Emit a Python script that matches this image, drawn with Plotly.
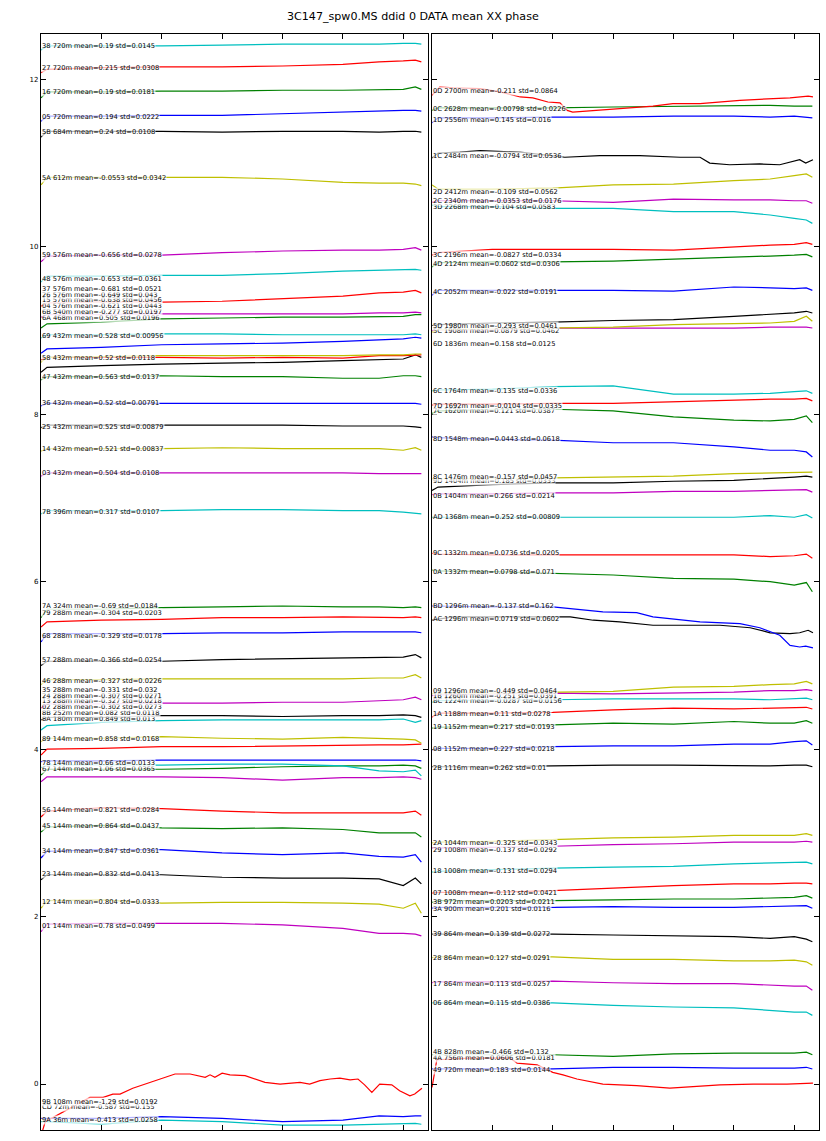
import plotly.graph_objects as go

TITLE = "3C147_spw0.MS ddid 0 DATA mean XX phase"
GRID_X = [0, 0.1, 1, 2, 3, 4, 5, 5.6, 6.0, 6.2, 6.3]
COLOR_MAP = {"b": "#0000ff", "g": "#008000", "r": "#ff0000", "c": "#00bfbf",
             "m": "#bf00bf", "y": "#bfbf00", "k": "#000000"}

# ---------------- left panel (top to bottom) ----------------
LEFT_LABELS = [
    "38 720m mean=0.19 std=0.0145", "27 720m mean=0.215 std=0.0308",
    "16 720m mean=0.19 std=0.0181", "05 720m mean=0.194 std=0.0222",
    "5B 684m mean=0.24 std=0.0108", "5A 612m mean=-0.0553 std=0.0342",
    "59 576m mean=-0.656 std=0.0278", "48 576m mean=-0.653 std=0.0361",
    "37 576m mean=-0.681 std=0.0521", "26 576m mean=-0.649 std=0.043",
    "15 576m mean=-0.638 std=0.0456", "04 576m mean=-0.621 std=0.0443",
    "6B 540m mean=-0.277 std=0.0197", "6A 468m mean=0.505 std=0.0196",
    "69 432m mean=0.528 std=0.00956", "58 432m mean=0.52 std=0.0118",
    "47 432m mean=0.563 std=0.0137", "36 432m mean=0.52 std=0.00791",
    "25 432m mean=0.525 std=0.00879", "14 432m mean=0.521 std=0.00837",
    "03 432m mean=0.504 std=0.0108", "7B 396m mean=0.317 std=0.0107",
    "7A 324m mean=-0.69 std=0.0184", "79 288m mean=-0.304 std=0.0203",
    "68 288m mean=-0.329 std=0.0178", "57 288m mean=-0.366 std=0.0254",
    "46 288m mean=-0.327 std=0.0226", "35 288m mean=-0.331 std=0.032",
    "24 288m mean=-0.307 std=0.0271", "13 288m mean=-0.327 std=0.0218",
    "02 288m mean=-0.302 std=0.0273", "8B 252m mean=0.082 std=0.0118",
    "8A 180m mean=0.849 std=0.013", "89 144m mean=0.858 std=0.0168",
    "78 144m mean=0.66 std=0.0133", "67 144m mean=1.06 std=0.0365",
    "56 144m mean=0.821 std=0.0284", "45 144m mean=0.864 std=0.0437",
    "34 144m mean=0.847 std=0.0361", "23 144m mean=0.832 std=0.0413",
    "12 144m mean=0.804 std=0.0333", "01 144m mean=0.78 std=0.0499",
    "9B 108m mean=-1.29 std=0.0192", "CD 72m mean=-0.587 std=0.155",
    "9A 36m mean=-0.413 std=0.0258",
]
LEFT_LABEL_Y = [12.40, 12.13, 11.85, 11.55, 11.37, 10.82, 9.90, 9.61, 9.50, 9.43,
                9.36, 9.29, 9.22, 9.15, 8.94, 8.67, 8.45, 8.13, 7.85, 7.58,
                7.30, 6.83, 5.71, 5.63, 5.35, 5.06, 4.81, 4.71, 4.63, 4.57,
                4.50, 4.43, 4.36, 4.12, 3.83, 3.76, 3.27, 3.08, 2.78, 2.51,
                2.18, 1.89, -0.22, -0.28, -0.43]
LEFT_COLORS = ["c", "r", "g", "b", "k", "y", "m", "c", "r", "m", "g", "c", "b", "y", "r",
               "k", "g", "b", "k", "y", "m", "c", "g", "r", "b", "k", "y", "m", "k", "c",
               "y", "r", "b", "c", "g", "m", "r", "g", "b", "k", "y", "m", "r", "b", "c"]
LEFT_Y = [
    [12.35, 12.40, 12.40, 12.40, 12.41, 12.42, 12.42, 12.42, 12.43, 12.43, 12.42],
    [12.08, 12.12, 12.14, 12.15, 12.15, 12.16, 12.18, 12.21, 12.22, 12.23, 12.21],
    [11.78, 11.85, 11.85, 11.86, 11.86, 11.87, 11.87, 11.88, 11.88, 11.91, 11.88],
    [11.50, 11.56, 11.56, 11.57, 11.57, 11.59, 11.61, 11.63, 11.63, 11.63, 11.62],
    [11.31, 11.38, 11.38, 11.38, 11.37, 11.38, 11.38, 11.37, 11.38, 11.38, 11.37],
    [10.74, 10.83, 10.83, 10.83, 10.83, 10.81, 10.77, 10.76, 10.76, 10.75, 10.73],
    [9.82, 9.89, 9.90, 9.90, 9.93, 9.95, 9.96, 9.96, 9.97, 9.99, 9.96],
    [9.58, 9.65, 9.65, 9.66, 9.66, 9.68, 9.71, 9.72, 9.72, 9.73, 9.72],
    [9.29, 9.33, 9.34, 9.34, 9.35, 9.38, 9.41, 9.45, 9.46, 9.48, 9.45],
    [9.16, 9.19, 9.19, 9.20, 9.20, 9.20, 9.20, 9.21, 9.21, 9.22, 9.21],
    [9.03, 9.08, 9.10, 9.14, 9.15, 9.16, 9.16, 9.17, 9.17, 9.19, 9.19],
    [8.91, 8.95, 8.95, 8.96, 8.96, 8.95, 8.95, 8.95, 8.95, 8.96, 8.95],
    [8.73, 8.78, 8.80, 8.83, 8.84, 8.85, 8.87, 8.89, 8.90, 8.92, 8.91],
    [8.62, 8.68, 8.69, 8.70, 8.70, 8.70, 8.70, 8.71, 8.71, 8.72, 8.72],
    [8.65, 8.68, 8.68, 8.68, 8.67, 8.68, 8.67, 8.70, 8.70, 8.71, 8.71],
    [8.50, 8.56, 8.58, 8.60, 8.61, 8.62, 8.64, 8.65, 8.66, 8.71, 8.68],
    [8.41, 8.45, 8.45, 8.46, 8.45, 8.45, 8.43, 8.43, 8.46, 8.46, 8.45],
    [8.10, 8.13, 8.13, 8.13, 8.13, 8.13, 8.13, 8.13, 8.13, 8.13, 8.12],
    [7.84, 7.87, 7.87, 7.87, 7.87, 7.87, 7.86, 7.86, 7.86, 7.85, 7.84],
    [7.56, 7.59, 7.59, 7.59, 7.60, 7.59, 7.59, 7.59, 7.57, 7.60, 7.57],
    [7.26, 7.30, 7.30, 7.30, 7.30, 7.30, 7.30, 7.29, 7.29, 7.29, 7.29],
    [6.81, 6.85, 6.85, 6.85, 6.86, 6.86, 6.85, 6.85, 6.83, 6.82, 6.81],
    [5.57, 5.67, 5.67, 5.69, 5.70, 5.71, 5.70, 5.70, 5.69, 5.70, 5.69],
    [5.46, 5.52, 5.54, 5.55, 5.57, 5.57, 5.58, 5.57, 5.57, 5.58, 5.57],
    [5.28, 5.38, 5.38, 5.38, 5.39, 5.39, 5.40, 5.40, 5.40, 5.40, 5.39],
    [5.00, 5.05, 5.05, 5.05, 5.07, 5.08, 5.09, 5.10, 5.10, 5.13, 5.09],
    [4.77, 4.83, 4.83, 4.84, 4.84, 4.84, 4.84, 4.85, 4.85, 4.89, 4.85],
    [4.49, 4.54, 4.54, 4.55, 4.55, 4.56, 4.56, 4.58, 4.59, 4.62, 4.59],
    [4.35, 4.38, 4.38, 4.40, 4.40, 4.39, 4.40, 4.40, 4.41, 4.40, 4.38],
    [4.23, 4.28, 4.32, 4.34, 4.35, 4.35, 4.35, 4.35, 4.36, 4.32, 4.34],
    [4.09, 4.13, 4.13, 4.15, 4.13, 4.12, 4.14, 4.13, 4.12, 4.11, 4.07],
    [3.93, 4.00, 4.01, 4.03, 4.03, 4.04, 4.05, 4.05, 4.05, 4.06, 4.06],
    [3.85, 3.86, 3.86, 3.87, 3.87, 3.87, 3.87, 3.87, 3.87, 3.87, 3.86],
    [3.78, 3.81, 3.81, 3.81, 3.82, 3.82, 3.80, 3.74, 3.73, 3.75, 3.68],
    [3.69, 3.76, 3.76, 3.76, 3.77, 3.79, 3.80, 3.80, 3.81, 3.80, 3.77],
    [3.61, 3.67, 3.67, 3.67, 3.66, 3.63, 3.66, 3.66, 3.67, 3.66, 3.64],
    [3.19, 3.26, 3.30, 3.29, 3.26, 3.24, 3.24, 3.24, 3.24, 3.26, 3.21],
    [3.01, 3.07, 3.09, 3.06, 3.05, 3.06, 3.04, 3.00, 3.00, 3.00, 2.95],
    [2.70, 2.78, 2.80, 2.80, 2.76, 2.74, 2.76, 2.72, 2.71, 2.74, 2.65],
    [2.44, 2.50, 2.50, 2.50, 2.47, 2.46, 2.46, 2.45, 2.37, 2.46, 2.39],
    [2.10, 2.19, 2.20, 2.16, 2.17, 2.17, 2.16, 2.15, 2.10, 2.16, 2.04],
    [1.82, 1.91, 1.92, 1.92, 1.92, 1.90, 1.86, 1.80, 1.80, 1.79, 1.77],
    [-0.62, -0.45, -0.16, 0.05, 0.13, 0.00, 0.07, -0.05, -0.08, -0.12, -0.05],
    [-0.41, -0.41, -0.41, -0.39, -0.41, -0.45, -0.43, -0.38, -0.39, -0.38, -0.38],
    [-0.45, -0.45, -0.48, -0.43, -0.45, -0.49, -0.49, -0.48, -0.47, -0.47, -0.48],
]
# series with their own (denser) sample positions
LEFT_X_OVERRIDE = {
    42: [0, 0.07, 0.81, 1.03, 1.19, 1.31, 1.52, 1.69, 1.81, 1.92, 2.05, 2.22, 2.47, 2.58,
         2.72, 2.80, 2.88, 3.00, 3.13, 3.38, 3.54, 3.71, 3.96, 4.12, 4.29, 4.45, 4.62,
         4.79, 4.95, 5.12, 5.25, 5.36, 5.48, 5.61, 5.81, 5.94, 6.11, 6.19, 6.31],
}
LEFT_Y_OVERRIDE = {
    42: [-0.62, -0.45, -0.16, -0.16, -0.12, -0.12, -0.05, -0.01, 0.02, 0.05, 0.08, 0.12,
         0.12, 0.10, 0.08, 0.11, 0.08, 0.13, 0.11, 0.10, 0.06, 0.02, 0.00, 0.01, 0.02,
         0.00, 0.04, 0.06, 0.07, 0.05, 0.06, -0.01, -0.10, 0.00, -0.01, -0.08, -0.14,
         -0.12, -0.05],
}

# ---------------- right panel (top to bottom) ----------------
RIGHT_LABELS = [
    "0D 2700m mean=-0.211 std=0.0864", "0C 2628m mean=-0.00798 std=0.0226",
    "1D 2556m mean=0.145 std=0.016", "1C 2484m mean=-0.0794 std=0.0536",
    "2D 2412m mean=-0.109 std=0.0562", "2C 2340m mean=-0.0353 std=0.0176",
    "3D 2268m mean=0.104 std=0.0583", "3C 2196m mean=-0.0827 std=0.0334",
    "4D 2124m mean=0.0602 std=0.0306", "4C 2052m mean=-0.022 std=0.0191",
    "5D 1980m mean=-0.293 std=0.0461", "5C 1908m mean=0.0879 std=0.0462",
    "6D 1836m mean=0.158 std=0.0125", "6C 1764m mean=-0.135 std=0.0336",
    "7D 1692m mean=-0.0104 std=0.0335", "7C 1620m mean=0.121 std=0.0387",
    "8D 1548m mean=0.0443 std=0.0618", "8C 1476m mean=-0.157 std=0.0457",
    "9D 1404m mean=0.185 std=0.0333", "0B 1404m mean=0.266 std=0.0214",
    "AD 1368m mean=0.252 std=0.00809", "9C 1332m mean=0.0736 std=0.0205",
    "0A 1332m mean=0.0798 std=0.071", "BD 1296m mean=-0.137 std=0.162",
    "AC 1296m mean=0.0719 std=0.0602", "09 1296m mean=-0.449 std=0.0464",
    "1B 1260m mean=-0.251 std=0.0391", "BC 1224m mean=-0.0287 std=0.0156",
    "1A 1188m mean=0.11 std=0.0278", "19 1152m mean=0.217 std=0.0193",
    "08 1152m mean=0.227 std=0.0218", "2B 1116m mean=0.262 std=0.01",
    "2A 1044m mean=-0.325 std=0.0343", "29 1008m mean=-0.137 std=0.0292",
    "18 1008m mean=-0.131 std=0.0294", "07 1008m mean=-0.112 std=0.0421",
    "3B 972m mean=0.0203 std=0.0211", "3A 900m mean=0.201 std=0.0116",
    "39 864m mean=0.139 std=0.0272", "28 864m mean=0.127 std=0.0291",
    "17 864m mean=0.113 std=0.0257", "06 864m mean=0.115 std=0.0386",
    "4B 828m mean=-0.466 std=0.132", "4A 756m mean=0.0606 std=0.0181",
    "49 720m mean=0.183 std=0.0144",
]
RIGHT_LABEL_Y = [11.86, 11.65, 11.52, 11.08, 10.66, 10.55, 10.48, 9.90, 9.79, 9.46,
                 9.06, 8.99, 8.84, 8.28, 8.10, 8.04, 7.71, 7.25, 7.20, 7.02,
                 6.77, 6.34, 6.12, 5.71, 5.55, 4.70, 4.64, 4.57, 4.42, 4.26,
                 4.00, 3.78, 2.88, 2.80, 2.54, 2.28, 2.17, 2.09, 1.79, 1.51,
                 1.20, 0.97, 0.38, 0.31, 0.17]
RIGHT_COLORS = ["r", "g", "b", "k", "y", "m", "c", "r", "g", "b", "y", "k", "m", "c", "r",
                "g", "b", "y", "k", "m", "c", "r", "g", "b", "k", "y", "m", "c", "r", "g",
                "b", "k", "y", "m", "c", "r", "g", "b", "k", "y", "m", "c", "g", "r", "b"]
RIGHT_Y = [
    None,
    [11.63, 11.66, 11.66, 11.66, 11.67, 11.68, 11.69, 11.69, 11.68, 11.68, 11.68],
    [11.48, 11.54, 11.54, 11.55, 11.55, 11.56, 11.56, 11.55, 11.56, 11.55, 11.54],
    None,
    [10.74, 10.69, 10.69, 10.70, 10.74, 10.75, 10.79, 10.81, 10.85, 10.87, 10.83],
    [10.53, 10.55, 10.55, 10.55, 10.53, 10.57, 10.56, 10.56, 10.55, 10.55, 10.52],
    [10.50, 10.48, 10.48, 10.46, 10.46, 10.42, 10.42, 10.38, 10.34, 10.32, 10.28],
    [9.90, 9.93, 9.97, 9.97, 9.97, 9.96, 10.00, 10.02, 10.03, 10.05, 10.03],
    [9.76, 9.81, 9.82, 9.82, 9.83, 9.85, 9.87, 9.89, 9.90, 9.91, 9.88],
    [9.42, 9.48, 9.48, 9.48, 9.48, 9.47, 9.52, 9.51, 9.50, 9.51, 9.48],
    [8.98, 9.01, 9.02, 9.03, 9.04, 9.07, 9.08, 9.09, 9.11, 9.17, 9.11],
    [9.06, 9.07, 9.09, 9.10, 9.12, 9.13, 9.17, 9.19, 9.21, 9.23, 9.21],
    [9.00, 9.01, 9.01, 9.03, 9.03, 9.03, 9.03, 9.04, 9.04, 9.04, 9.03],
    [8.28, 8.29, 8.30, 8.33, 8.34, 8.24, 8.24, 8.25, 8.27, 8.28, 8.25],
    [8.11, 8.12, 8.12, 8.13, 8.13, 8.15, 8.17, 8.18, 8.18, 8.19, 8.16],
    [8.01, 8.04, 8.06, 8.06, 8.04, 7.97, 7.93, 7.92, 7.94, 7.98, 7.90],
    [7.73, 7.72, 7.70, 7.69, 7.66, 7.66, 7.61, 7.57, 7.57, 7.55, 7.49],
    [7.23, 7.23, 7.23, 7.24, 7.25, 7.26, 7.29, 7.30, 7.31, 7.31, 7.31],
    [7.09, 7.13, 7.16, 7.18, 7.18, 7.20, 7.21, 7.23, 7.25, 7.26, 7.25],
    [7.04, 7.05, 7.05, 7.06, 7.06, 7.08, 7.08, 7.09, 7.10, 7.10, 7.07],
    [6.77, 6.77, 6.77, 6.77, 6.77, 6.77, 6.77, 6.79, 6.77, 6.80, 6.76],
    [6.34, 6.33, 6.32, 6.32, 6.32, 6.32, 6.32, 6.30, 6.31, 6.33, 6.28],
    [6.14, 6.13, 6.12, 6.10, 6.08, 6.04, 6.03, 6.00, 5.96, 5.99, 5.88],
    None,
    None,
    [4.66, 4.67, 4.67, 4.68, 4.69, 4.74, 4.75, 4.77, 4.78, 4.81, 4.78],
    [4.64, 4.65, 4.66, 4.67, 4.66, 4.67, 4.68, 4.70, 4.70, 4.71, 4.70],
    [4.56, 4.58, 4.59, 4.59, 4.60, 4.60, 4.60, 4.59, 4.60, 4.61, 4.59],
    [4.38, 4.43, 4.43, 4.44, 4.47, 4.49, 4.48, 4.49, 4.50, 4.50, 4.48],
    [4.25, 4.26, 4.28, 4.29, 4.31, 4.30, 4.33, 4.31, 4.31, 4.34, 4.31],
    [3.99, 4.01, 4.01, 4.03, 4.04, 4.04, 4.06, 4.06, 4.09, 4.10, 4.05],
    [3.79, 3.79, 3.79, 3.80, 3.81, 3.81, 3.80, 3.80, 3.81, 3.81, 3.79],
    [2.88, 2.89, 2.90, 2.92, 2.94, 2.95, 2.97, 2.97, 2.97, 2.99, 2.97],
    [2.82, 2.82, 2.83, 2.84, 2.86, 2.87, 2.89, 2.89, 2.89, 2.90, 2.89],
    [2.53, 2.54, 2.56, 2.58, 2.59, 2.60, 2.63, 2.64, 2.64, 2.65, 2.63],
    [2.28, 2.29, 2.29, 2.31, 2.34, 2.37, 2.39, 2.39, 2.40, 2.40, 2.39],
    [2.17, 2.19, 2.19, 2.19, 2.20, 2.21, 2.21, 2.22, 2.23, 2.25, 2.22],
    [2.10, 2.11, 2.11, 2.11, 2.12, 2.11, 2.11, 2.12, 2.13, 2.13, 2.10],
    [1.79, 1.79, 1.79, 1.79, 1.78, 1.77, 1.76, 1.74, 1.76, 1.73, 1.70],
    [1.51, 1.52, 1.52, 1.52, 1.49, 1.49, 1.47, 1.47, 1.48, 1.46, 1.42],
    [1.21, 1.22, 1.22, 1.23, 1.21, 1.20, 1.20, 1.18, 1.17, 1.17, 1.12],
    [0.97, 0.97, 0.97, 0.97, 0.94, 0.92, 0.91, 0.88, 0.86, 0.86, 0.82],
    [0.35, 0.35, 0.35, 0.35, 0.33, 0.36, 0.37, 0.37, 0.37, 0.38, 0.35],
    None,
    [0.18, 0.18, 0.18, 0.18, 0.20, 0.20, 0.19, 0.19, 0.19, 0.20, 0.18],
]
RIGHT_X_OVERRIDE = {
    0: [0, 0.13, 0.35, 0.8, 1.13, 1.46, 1.67, 1.92, 2.12, 2.24, 2.33, 2.57, 3.11, 3.66,
        3.99, 4.44, 5.10, 5.93, 6.23, 6.31],
    3: [0, 0.10, 0.46, 0.80, 1.46, 2.00, 2.20, 2.78, 3.44, 4.11, 4.44, 4.60, 4.93, 5.43,
        5.76, 6.09, 6.19, 6.31],
    23: [0, 0.99, 2.0, 2.83, 3.39, 3.66, 4.44, 5.10, 5.43, 5.76, 5.93, 6.09, 6.19, 6.31],
    24: [0, 0.35, 2.29, 2.67, 3.11, 3.66, 4.44, 4.77, 5.27, 5.60, 5.93, 6.09, 6.23, 6.31],
    43: [0, 0.08, 0.63, 1.29, 1.41, 1.74, 2.0, 2.17, 2.4, 2.83, 3.39, 3.94, 4.77, 5.32,
         5.88, 6.31],
}
RIGHT_Y_OVERRIDE = {
    0: [11.81, 11.91, 11.90, 11.89, 11.85, 11.79, 11.78, 11.73, 11.72, 11.63, 11.61,
        11.62, 11.65, 11.68, 11.71, 11.71, 11.75, 11.78, 11.80, 11.79],
    3: [11.06, 11.12, 11.13, 11.15, 11.13, 11.09, 11.07, 11.09, 11.09, 11.07, 11.07,
        11.00, 10.98, 10.99, 10.98, 11.04, 11.00, 11.04],
    23: [5.71, 5.70, 5.70, 5.64, 5.63, 5.58, 5.52, 5.50, 5.45, 5.36, 5.24, 5.22, 5.23, 5.21],
    24: [5.54, 5.58, 5.58, 5.54, 5.52, 5.48, 5.48, 5.48, 5.45, 5.39, 5.38, 5.39, 5.42, 5.39],
    43: [-0.04, 0.29, 0.31, 0.31, 0.25, 0.23, 0.14, 0.11, 0.06, 0.0, -0.02, -0.05, -0.01,
         0.0, 0.0, 0.01],
}

X_RANGE = [0, 6.41]
Y_RANGE = [-0.549, 12.542]
Y_TICKS = [0, 2, 4, 6, 8, 10, 12]
X_TICKS = [1, 2, 3, 4, 5, 6]

fig = go.Figure()
annotations = []

panels = [
    ("x", "y", LEFT_LABELS, LEFT_LABEL_Y, LEFT_COLORS, LEFT_Y, LEFT_X_OVERRIDE, LEFT_Y_OVERRIDE),
    ("x2", "y2", RIGHT_LABELS, RIGHT_LABEL_Y, RIGHT_COLORS, RIGHT_Y, RIGHT_X_OVERRIDE, RIGHT_Y_OVERRIDE),
]
for xa, ya, labels, label_y, colors, ys, xo, yo in panels:
    n = len(labels)
    # plot from bottom to top, as in the original
    for i in reversed(range(n)):
        xs = xo.get(i, GRID_X)
        yv = yo.get(i, ys[i])
        fig.add_trace(go.Scatter(x=xs, y=yv, mode="lines", xaxis=xa, yaxis=ya,
                                 line=dict(color=COLOR_MAP[colors[i]], width=1.2),
                                 showlegend=False, hoverinfo="skip"))
    for i in reversed(range(n)):
        annotations.append(dict(x=0, y=label_y[i], xref=xa, yref=ya, text=labels[i],
                                showarrow=False, xanchor="left", yanchor="middle",
                                font=dict(family="DejaVu Sans", size=6.7, color="#000000"),
                                bgcolor="rgba(255,255,255,0.7)", borderpad=0))

annotations.append(dict(x=0.5, y=1 - 16 / 1141, xref="paper", yref="paper", text=TITLE,
                        showarrow=False, xanchor="center", yanchor="middle",
                        font=dict(family="DejaVu Sans", size=11.1, color="#000000")))

axis_common = dict(range=X_RANGE, tickvals=X_TICKS, showticklabels=False, ticks="inside",
                   ticklen=5, tickcolor="#000", showgrid=False, zeroline=False,
                   showline=True, linecolor="#000", linewidth=1.3, mirror="ticks")
yaxis_common = dict(range=Y_RANGE, tickvals=Y_TICKS, ticks="inside", ticklen=5,
                    tickcolor="#000", showgrid=False, zeroline=False, showline=True,
                    linecolor="#000", linewidth=1.3, mirror="ticks")

fig.update_layout(
    width=826, height=1141, autosize=False,
    margin=dict(l=0, r=0, t=0, b=0),
    paper_bgcolor="white", plot_bgcolor="white",
    xaxis=dict(domain=[41 / 826, 428 / 826], anchor="y", **axis_common),
    xaxis2=dict(domain=[432 / 826, 819 / 826], anchor="y2", **axis_common),
    yaxis=dict(domain=[11 / 1141, 1107 / 1141], anchor="x", showticklabels=True,
               tickfont=dict(family="DejaVu Sans", size=7, color="#000"), **yaxis_common),
    yaxis2=dict(domain=[11 / 1141, 1107 / 1141], anchor="x2", showticklabels=False,
                **yaxis_common),
    annotations=annotations,
    showlegend=False,
)

fig.write_html("out.html")
